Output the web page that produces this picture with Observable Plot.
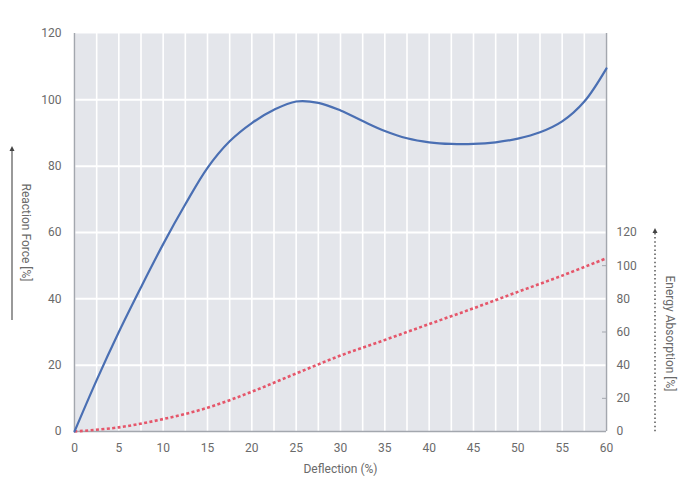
<!DOCTYPE html>
<html><head><meta charset="utf-8">
<script src="https://cdn.jsdelivr.net/npm/d3@7"></script>
<script src="https://cdn.jsdelivr.net/npm/@observablehq/plot@0.6"></script>
<style>body{margin:0;background:#fff;}</style>
</head><body><div id="chart"></div>
<script>
// Deflection (%) sample points for the reaction-force curve
const forceDeflection = [0,2.5,5,7.5,10,12.5,15,17.5,20,22.5,25,27.5,30,32.5,35,37.5,40,42.5,45,47.5,50,52.5,55,57.5,60];
// Reaction force (%) – left axis
const reactionForce = [0,15.5,30,43.5,56.5,68.5,79.5,87.5,93,97,99.5,99.1,96.8,93.6,90.6,88.4,87.2,86.7,86.7,87.2,88.3,90.2,93.5,99.5,109.5];
// Deflection (%) sample points for the energy curve
const energyDeflection = [0,5,10,15,20,25,30,35,40,45,50,55,60];
// Energy absorption (%) – right axis
const energyAbsorption = [0,2.5,7.5,14.3,24,35,45.8,55.2,64.8,74.3,84.2,94,104.5];

const xTicks = [0,5,10,15,20,25,30,35,40,45,50,55,60];
const leftTicks = [0,20,40,60,80,100,120];
const rightTicks = [0,20,40,60,80,100,120];
const rightMinorTicks = [20,60,100];
const xGrid = d3.range(0, 60.01, 2.5);
const yGrid = [20,40,60,80,100];

const labelX = "Deflection (%)";
const labelLeft = "Reaction Force [%]";
const labelRight = "Energy Absorption [%]";

const RATIO = 2; // right axis units per left axis unit

const force = forceDeflection.map((d,i)=>({x:d, y:reactionForce[i]}));
const energy = energyDeflection.map((d,i)=>({x:d, e:energyAbsorption[i]}));

const textColor = "#6a6a6a";
const axisColor = "#a3a7ae";

const chart = Plot.plot({
  width: 692,
  height: 503,
  marginLeft: 74,
  marginRight: 86,
  marginTop: 33,
  marginBottom: 72,
  x: {domain: [0, 60]},
  y: {domain: [0, 120]},
  style: {fontFamily: "Roboto, 'Liberation Sans', sans-serif", fontSize: "12px", color: textColor, background: "#fff"},
  marks: [
    Plot.frame({fill: "#e4e6eb", stroke: null}),
    Plot.gridX(xGrid, {stroke: "#fff", strokeOpacity: 1, strokeWidth: 1.6}),
    Plot.gridY(yGrid, {stroke: "#fff", strokeOpacity: 1, strokeWidth: 2}),
    Plot.axisY(rightMinorTicks.map(v => v / RATIO), {anchor: "right", tickSize: -5, tickFormat: () => "", stroke: axisColor, label: null}),
    Plot.ruleX([0, 60], {stroke: axisColor, strokeWidth: 1.5}),
    Plot.ruleY([0], {stroke: axisColor, strokeWidth: 1.5}),
    Plot.axisY(leftTicks, {anchor: "left", tickSize: 0, tickPadding: 13, label: null, fill: textColor}),
    Plot.axisY(rightTicks.map(v => v / RATIO), {anchor: "right", tickSize: 0, tickPadding: 10, tickFormat: d => d * RATIO, label: null, fill: textColor}),
    Plot.axisX(xTicks, {tickSize: 0, tickPadding: 12, label: null, fill: textColor}),
    Plot.line(energy, {x: "x", y: d => d.e / RATIO, stroke: "#e5566a", strokeWidth: 2.6, strokeDasharray: "3,2.4", strokeLinecap: "butt", curve: "catmull-rom"}),
    Plot.line(force, {x: "x", y: "y", stroke: "#4a6fb3", strokeWidth: 2.2, curve: "catmull-rom"}),
    Plot.text([labelX], {text: d => d, frameAnchor: "bottom", dy: 38, fill: textColor, fontSize: 12, textAnchor: "middle", lineAnchor: "middle"}),
    Plot.text([labelLeft], {text: d => d, frameAnchor: "left", dx: -49, rotate: 90, fill: textColor, fontSize: 12, textAnchor: "middle", lineAnchor: "middle"}),
    Plot.text([labelRight], {text: d => d, frameAnchor: "bottom-right", dx: 63, dy: -98, rotate: 90, fill: textColor, fontSize: 12, textAnchor: "middle", lineAnchor: "middle"})
  ]
});

// arrows beside the axis titles, positioned from the scales
const sx = chart.scale("x"), sy = chart.scale("y");
const svg = d3.select(chart);
const g = svg.append("g");
const lx = sx.apply(0) - 62;
const lTop = sy.apply(60) - 85, lBot = sy.apply(60) + 88;
g.append("line").attr("x1", lx).attr("x2", lx).attr("y1", lTop + 3).attr("y2", lBot)
  .attr("stroke", "#555").attr("stroke-width", 1.2);
g.append("path").attr("d", `M${lx - 2.5},${lTop + 4}L${lx},${lTop - 1}L${lx + 2.5},${lTop + 4}Z`).attr("fill", "#444");
const rx = sx.apply(60) + 49;
const rTop = sy.apply(60) - 3, rBot = sy.apply(0) + 1;
g.append("line").attr("x1", rx).attr("x2", rx).attr("y1", rTop + 4).attr("y2", rBot)
  .attr("stroke", "#555").attr("stroke-width", 1.5).attr("stroke-dasharray", "1.5,2.6");
g.append("path").attr("d", `M${rx - 2.5},${rTop + 4}L${rx},${rTop - 1}L${rx + 2.5},${rTop + 4}Z`).attr("fill", "#444");

document.getElementById("chart").appendChild(chart);
</script>
</body></html>
